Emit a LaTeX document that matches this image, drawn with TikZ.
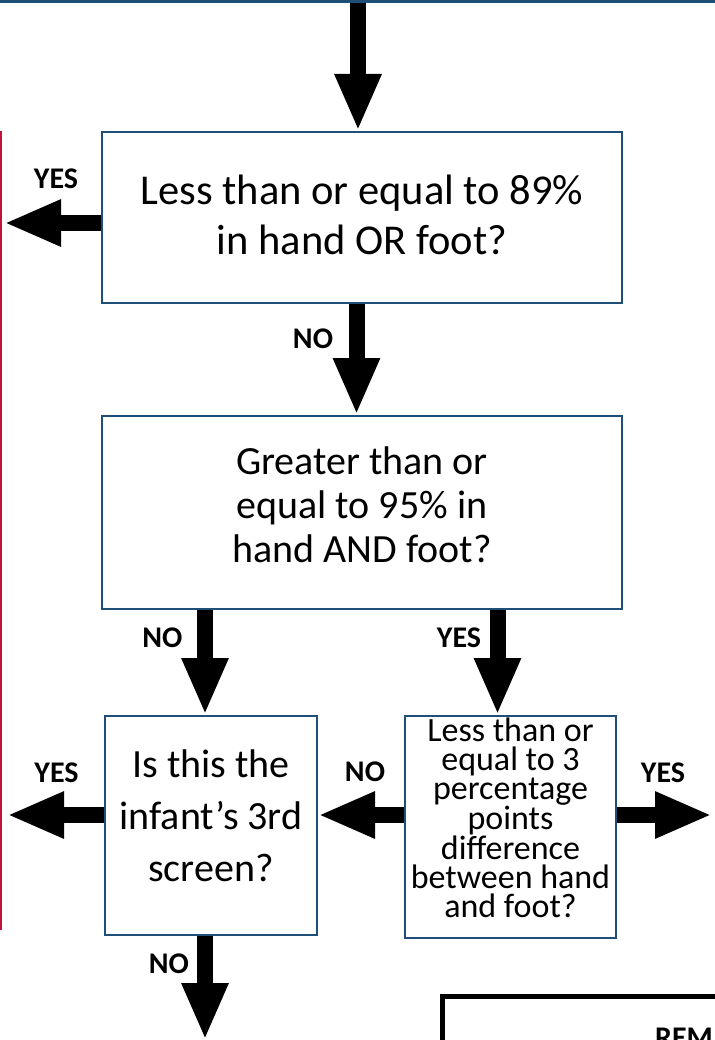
\documentclass[tikz,border=0pt]{standalone}
\usepackage{fontspec}
\setmainfont{Carlito}
\usetikzlibrary{arrows.meta}
\definecolor{boxblue}{HTML}{1F4E79}
\definecolor{edgered}{HTML}{C0143C}
\begin{document}
\begin{tikzpicture}[x=1pt,y=-1pt,
  qbox/.style={draw=boxblue, line width=2pt, inner sep=0pt, anchor=north west},
  qtext/.style={align=center, inner sep=0pt},
  blockarrow/.style={line width=16pt, -{Triangle[width=43pt,length=57pt]}},
  lbl/.style={font=\fontsize{30}{32}\selectfont\bfseries, inner sep=0pt}]
\useasboundingbox (0,0) rectangle (714,1040);
% partial frames at the edges
\draw[boxblue, line width=3pt] (-5,1.5) -- (720,1.5);
\draw[edgered, line width=2pt] (1,131) -- (1,930);
\draw[black, line width=5pt] (442,996) rectangle (730,1060);
\node[anchor=north west, inner sep=0pt, font=\fontsize{30}{32}\selectfont\bfseries] (rem) at (655,1028) {REM};
% boxes
\node[qbox, minimum width=520pt, minimum height=171pt] (b1) at (101,131) {};
\node[qbox, minimum width=520pt, minimum height=193pt] (b2) at (101,415) {};
\node[qbox, minimum width=212pt, minimum height=219pt] (b3) at (104,715) {};
\node[qbox, minimum width=211pt, minimum height=222pt] (b4) at (404,715) {};
% box texts
\node[qtext, font=\fontsize{42.5}{50}\selectfont] (t1) at ([yshift=3pt]b1.center) {Less than or equal to 89\%\\in hand OR foot?};
\node[qtext, font=\fontsize{40}{44}\selectfont] (t2) at ([yshift=8pt]b2.center) {Greater than or\\equal to 95\% in\\hand AND foot?};
\node[qtext, font=\fontsize{40}{52}\selectfont] (t3) at ([yshift=10pt]b3.center) {Is this the\\infant’s 3rd\\screen?};
\node[qtext, font=\fontsize{34}{29}\selectfont] (t4) at ([yshift=9pt]b4.center) {Less than or\\equal to 3\\percentage\\points\\difference\\between hand\\and foot?};
% helper coordinates
\coordinate (top) at (358,3);
\coordinate (xm) at (356.5,0);
\coordinate (xa) at (205,0);
\coordinate (xb) at (497.5,0);
\coordinate (yl1) at (4,223);
\coordinate (yl3) at (7,815);
\coordinate (yr4) at (712,815);
\coordinate (bot) at (205,1040);
% arrows
\draw[blockarrow] (top) -- (top |- b1.north);
\draw[blockarrow] (b1.south -| xm) -- (b2.north -| xm);
\draw[blockarrow] (b1.west |- yl1) -- (yl1);
\draw[blockarrow] (b2.south -| xa) -- (b3.north -| xa);
\draw[blockarrow] (b2.south -| xb) -- (b4.north -| xb);
\draw[blockarrow] (b3.west |- yl3) -- (yl3);
\draw[blockarrow] (b4.west |- yl3) -- (b3.east |- yl3);
\draw[blockarrow] (b4.east |- yr4) -- (yr4);
\draw[blockarrow] (b3.south -| xa) -- (bot);
% labels
\node[lbl] (l1) at (56,179) {YES};
\node[lbl] (l2) at (313,338.5) {NO};
\node[lbl] (l3) at (162.5,638) {NO};
\node[lbl] (l4) at (459,638) {YES};
\node[lbl] (l5) at (56.5,772.5) {YES};
\node[lbl] (l6) at (365,771.5) {NO};
\node[lbl] (l7) at (663,772.5) {YES};
\node[lbl] (l8) at (169,964) {NO};
\end{tikzpicture}
\end{document}
